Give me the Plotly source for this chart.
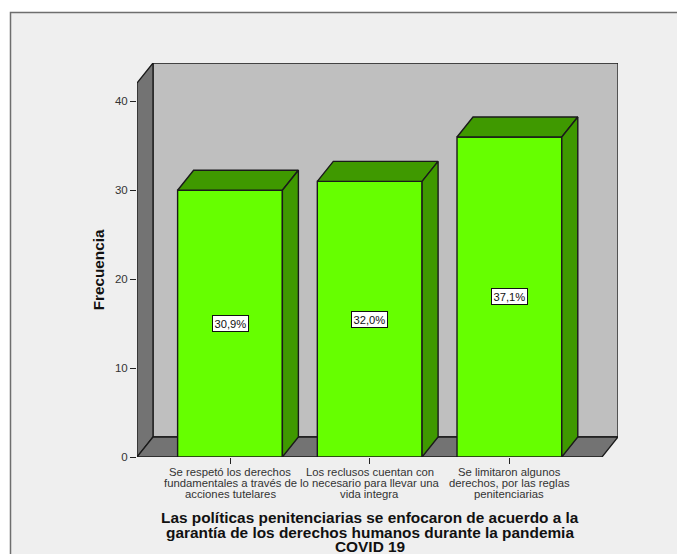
import plotly.graph_objects as go

# Data
categories = [1, 2, 3]
frequencies = [30, 31, 36]
percent_labels = ["30,9%", "32,0%", "37,1%"]
category_lines = [
    ["Se respetó los derechos", "fundamentales a través de", "acciones tutelares"],
    ["Los reclusos cuentan con", "lo necesario para llevar una", "vida integra"],
    ["Se limitaron algunos", "derechos, por las reglas", "penitenciarias"],
]
y_ticks = [0, 10, 20, 30, 40]
title_lines = [
    "Las políticas penitenciarias se enfocaron de acuerdo a la",
    "garantía de los derechos humanos durante la pandemia",
    "COVID 19",
]
y_title = "Frecuencia"

# Style / geometry
W, H = 677, 554
L, R, T, B = 137, 618, 63, 457
px_per_cat = 139.7
px_per_val = 8.89
x_lo = 1 - (230 - L) / px_per_cat
x_hi = x_lo + (R - L) / px_per_cat
y_hi = (B - T) / px_per_val
dx = 16 / px_per_cat
dy = 20 / px_per_val
y_top = y_hi - dy
x_front_hi = x_hi - dx
bar_w = 0.75
LIME, DARK = "#66ff00", "#3f9900"
WALL, BACK, EDGE = "#737373", "#bfbfbf", "#1a1a1a"
FONT = "Liberation Sans, Arial, sans-serif"


def poly(points):
    return "M " + " L ".join(f"{x} {y}" for x, y in points) + " Z"


shapes = [
    # page panel
    dict(type="rect", xref="paper", yref="paper", layer="below",
         x0=(10.5 - L) / (R - L), x1=(W + 5 - L) / (R - L),
         y0=(B - H - 5) / (B - T), y1=(B - 12.5) / (B - T),
         fillcolor="#efefef", line=dict(color="#6e6e6e", width=1.5)),
    # back wall
    dict(type="path", layer="below", xref="x", yref="y", fillcolor=BACK,
         line=dict(color=EDGE, width=1.3),
         path=poly([(x_lo + dx, dy), (x_hi, dy), (x_hi, y_hi), (x_lo + dx, y_hi)])),
    # left wall
    dict(type="path", layer="below", xref="x", yref="y", fillcolor=WALL,
         line=dict(color=EDGE, width=1.3),
         path=poly([(x_lo, 0), (x_lo + dx, dy), (x_lo + dx, y_hi), (x_lo, y_top)])),
    # floor
    dict(type="path", layer="below", xref="x", yref="y", fillcolor=WALL,
         line=dict(color=EDGE, width=1.3),
         path=poly([(x_lo, 0), (x_front_hi, 0), (x_hi, dy), (x_lo + dx, dy)])),
]

fig = go.Figure()
fig.add_trace(go.Bar(x=categories, y=frequencies, width=bar_w,
                     marker=dict(color=LIME, line=dict(color=EDGE, width=1.4)),
                     hoverinfo="skip", showlegend=False))

for c, v in zip(categories, frequencies):
    a, b = c - bar_w / 2, c + bar_w / 2
    top_x = [a, b, b + dx, a + dx, a]
    top_y = [v, v, v + dy, v + dy, v]
    side_x = [b, b + dx, b + dx, b, b]
    side_y = [0, dy, v + dy, v, 0]
    for xs, ys in ((top_x, top_y), (side_x, side_y)):
        fig.add_trace(go.Scatter(x=xs, y=ys, mode="lines", fill="toself", fillcolor=DARK,
                                 line=dict(color=EDGE, width=1.4), hoverinfo="skip",
                                 showlegend=False, cliponaxis=False))

annotations = []
for c, v, p in zip(categories, frequencies, percent_labels):
    annotations.append(dict(x=c, y=v / 2, xref="x", yref="y", text=p, showarrow=False,
                            font=dict(family=FONT, size=11.2, color="#111111"),
                            bgcolor="white", bordercolor="#111111", borderwidth=1, borderpad=1.5))

line_offsets = [-14.5, -26, -37]
for c, lines in zip(categories, category_lines):
    for text, off in zip(lines, line_offsets):
        annotations.append(dict(x=c, y=0, xref="x", yref="y", text=text, showarrow=False,
                                yshift=off, font=dict(family=FONT, size=11.3, color="#333333")))

title_offsets = [-60, -75, -89]
for text, off in zip(title_lines, title_offsets):
    annotations.append(dict(x=2, y=0, xref="x", yref="y", text=f"<b>{text}</b>", showarrow=False,
                            yshift=off, font=dict(family=FONT, size=15.4, color="#111111")))

annotations.append(dict(x=x_lo, y=21, xref="x", yref="y", text=f"<b>{y_title}</b>", showarrow=False,
                        xshift=-39, textangle=-90, font=dict(family=FONT, size=15.3, color="#111111")))

fig.update_layout(
    width=W, height=H, margin=dict(l=L, r=W - R, t=T, b=H - B, pad=0),
    paper_bgcolor="white", plot_bgcolor="rgba(0,0,0,0)",
    showlegend=False, shapes=shapes, annotations=annotations,
    xaxis=dict(range=[x_lo, x_hi], tickvals=categories, showticklabels=False,
               ticks="outside", ticklen=6, tickcolor="#222222", tickwidth=1.3,
               showgrid=False, zeroline=False, showline=False),
    yaxis=dict(range=[0, y_hi], tickvals=y_ticks, ticks="outside", ticklen=6,
               tickcolor="#222222", tickwidth=1.3, showgrid=False, zeroline=False, showline=False,
               tickfont=dict(family=FONT, size=11.5, color="#333333")),
)
fig.write_html("out.html", config=dict(displayModeBar=False),
               post_script="document.body.style.margin='0';document.documentElement.style.overflow='hidden';")
